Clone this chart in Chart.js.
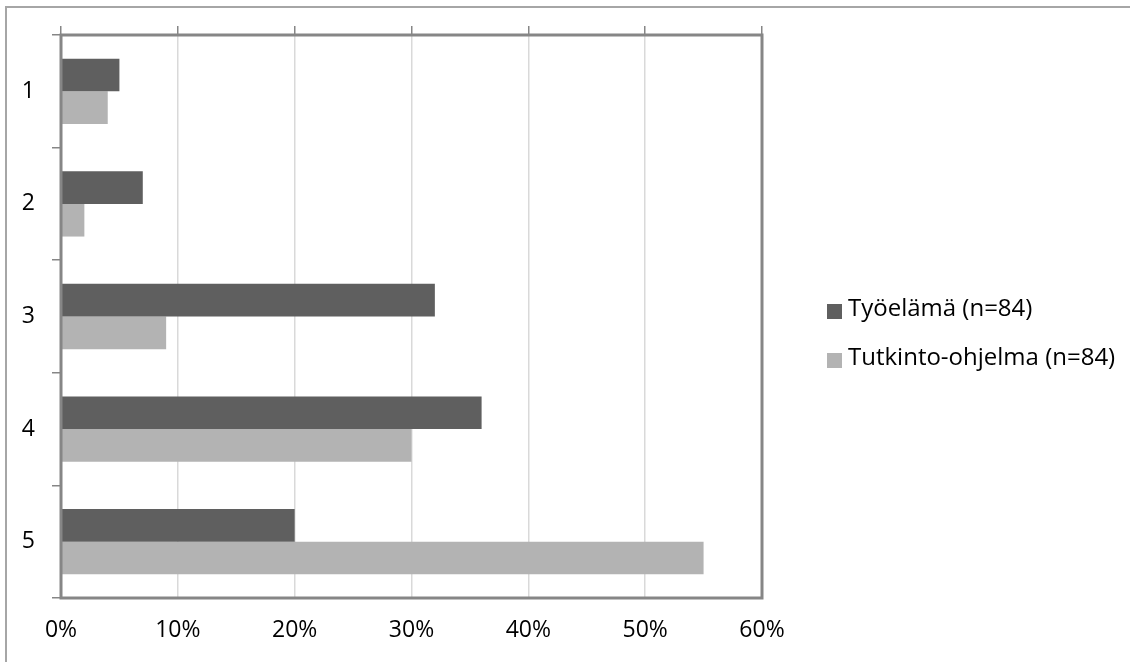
<!DOCTYPE html>
<html>
<head>
<meta charset="utf-8">
<script src="https://cdn.jsdelivr.net/npm/chart.js@4.4.0/dist/chart.umd.min.js"></script>
<style>
  html, body { margin: 0; padding: 0; background: #fff; }
  #wrap { position: relative; width: 1130px; height: 662px; overflow: hidden; }
  #frame {
    position: absolute; left: 5px; top: 6px; width: 1200px; height: 800px;
    border-left: 2px solid #a6a6a6; border-top: 2px solid #a6a6a6;
  }
  #c { position: absolute; left: 0; top: 0; }
</style>
</head>
<body>
<div id="wrap">
  <div id="frame"></div>
  <canvas id="c" width="1130" height="662"></canvas>
</div>
<script>
// ── Data ─────────────────────────────────────────────
const categories   = ['1', '2', '3', '4', '5'];
const tyoelama     = [5, 7, 32, 36, 20];
const tutkinto     = [4, 2, 9, 30, 55];
const seriesLabels = ['Työelämä (n=84)', 'Tutkinto-ohjelma (n=84)'];
const xTicks       = [0, 10, 20, 30, 40, 50, 60];

const FONT   = "'Open Sans', sans-serif";
const DARK   = '#5f5f5f';
const LIGHT  = '#b3b3b3';
const AXIS   = '#868686';

// plot border + legend drawn on canvas
const frameAndLegend = {
    id: 'frameAndLegend',
    afterDatasetsDraw(chart) {
        const { ctx, chartArea: a } = chart;
        ctx.save();
        ctx.strokeStyle = AXIS;
        ctx.lineWidth = 3;
        ctx.strokeRect(a.left, a.top, a.right - a.left, a.bottom - a.top);
        ctx.restore();
    },
    afterDraw(chart) {
        const ctx = chart.ctx;
        const rows = [311.5, 360.5];
        ctx.save();
        ctx.font = '24px ' + FONT;
        ctx.textBaseline = 'middle';
        chart.data.datasets.forEach((ds, i) => {
            ctx.fillStyle = ds.backgroundColor;
            ctx.fillRect(827, rows[i] - 7.5, 15, 15);
            ctx.fillStyle = '#000';
            ctx.fillText(ds.label, 848, rows[i] - 2);
        });
        ctx.restore();
    }
};

new Chart(document.getElementById('c'), {
    type: 'bar',
    data: {
        labels: categories,
        datasets: [
            { label: seriesLabels[0], data: tyoelama, backgroundColor: DARK },
            { label: seriesLabels[1], data: tutkinto, backgroundColor: LIGHT }
        ]
    },
    options: {
        indexAxis: 'y',
        responsive: false,
        animation: false,
        datasets: { bar: { barPercentage: 1, categoryPercentage: 0.58 } },
        layout: { padding: { left: 0, top: 0, right: 368, bottom: 0 } },
        plugins: { legend: { display: false }, tooltip: { enabled: false } },
        scales: {
            x: {
                position: 'bottom',
                min: 0, max: 60,
                afterBuildTicks: s => { s.ticks = xTicks.map(v => ({ value: v })); },
                afterFit: s => { s.height = 64; },
                border: { display: false },
                grid: { color: '#d9d9d9', lineWidth: 1.5, drawTicks: false },
                ticks: {
                    padding: 19,
                    color: '#000',
                    font: { family: FONT, size: 23 },
                    callback: v => v + '%'
                }
            },
            x2: {
                type: 'linear',
                position: 'top',
                min: 0, max: 60,
                afterBuildTicks: s => { s.ticks = xTicks.map(v => ({ value: v })); },
                afterFit: s => { s.height = 35; },
                border: { display: false },
                grid: { drawOnChartArea: false, drawTicks: true, tickLength: 9, color: AXIS, lineWidth: 1.5 },
                ticks: { display: false }
            },
            y: {
                afterFit: s => { s.width = 61; },
                border: { display: false },
                grid: { offset: true, drawOnChartArea: false, tickLength: 9, color: AXIS, lineWidth: 1.5 },
                ticks: {
                    padding: 17,
                    color: '#000',
                    font: { family: FONT, size: 23 }
                }
            }
        }
    },
    plugins: [frameAndLegend]
});
</script>
</body>
</html>
